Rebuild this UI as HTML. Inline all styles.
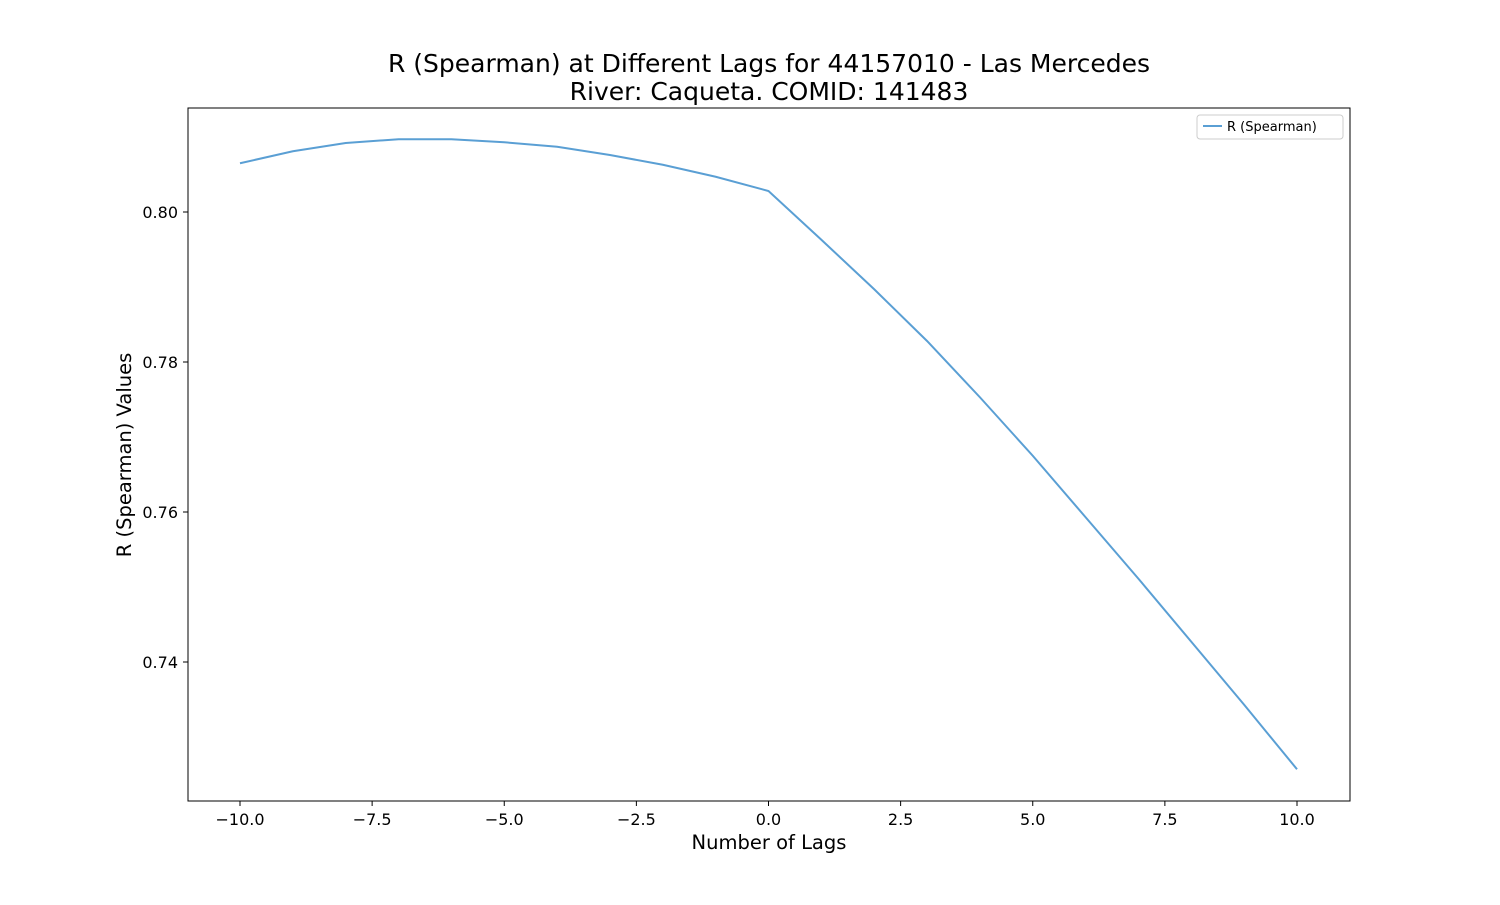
<!DOCTYPE html>
<html><head><meta charset="utf-8"><style>
body{margin:0;background:#fff;font-family:"Liberation Sans","DejaVu Sans",sans-serif}
svg text{font-family:"DejaVu Sans","Liberation Sans",sans-serif}
</style></head><body>
<svg id="chart" width="1500" height="900">
<rect width="1500" height="900" fill="#fff"/>
<text x="769" y="72" text-anchor="middle" font-size="25">R (Spearman) at Different Lags for 44157010 - Las Mercedes</text>
<text x="769" y="100" text-anchor="middle" font-size="25">River: Caqueta. COMID: 141483</text>
<g id="xt"></g><g id="yt"></g>
<path id="line" fill="none" stroke="#5a9fd4" stroke-width="2"/>
<rect x="188" y="108" width="1162" height="693" fill="none" stroke="#000" stroke-width="1"/>
<text x="769" y="849" text-anchor="middle" font-size="19.5">Number of Lags</text>
<text transform="translate(131,455) rotate(-90)" text-anchor="middle" font-size="19.5">R (Spearman) Values</text>
<g>
<rect x="1197" y="115" width="146" height="24" rx="3" fill="#fff" stroke="#ccc"/>
<line x1="1203" y1="126" x2="1222" y2="126" stroke="#5a9fd4" stroke-width="2"/>
<text x="1227" y="131" font-size="13">R (Spearman)</text>
</g>
</svg>
<script>
const lags=[-10,-9,-8,-7,-6,-5,-4,-3,-2,-1,0,1,2,3,4,5,6,7,8,9,10];
const rValues=[0.8065,0.8081,0.8092,0.8097,0.8097,0.8093,0.8087,0.8076,0.8063,0.8047,0.8028,0.7963,0.7897,0.7828,0.7753,0.7675,0.7593,0.7511,0.7427,0.7343,0.7257];
const xTicks=[-10,-7.5,-5,-2.5,0,2.5,5,7.5,10];
const yTicks=[0.74,0.76,0.78,0.80];
const X=v=>240+(v+10)*(1297-240)/20;
const Y=v=>212-(v-0.80)*7500;
const ns="http://www.w3.org/2000/svg";
const xt=document.getElementById('xt'),yt=document.getElementById('yt');
xTicks.forEach(t=>{
 const l=document.createElementNS(ns,'line');l.setAttribute('x1',X(t));l.setAttribute('x2',X(t));l.setAttribute('y1',801);l.setAttribute('y2',806);l.setAttribute('stroke','#000');
 
 
 xt.appendChild(l);
 const s=document.createElementNS(ns,'text');s.setAttribute('x',X(t));s.setAttribute('y',825);s.setAttribute('text-anchor','middle');s.setAttribute('font-size','16');
 s.textContent=(t<0?'\u2212':'')+Math.abs(t).toFixed(1);
 
 
 xt.appendChild(s);
});
yTicks.forEach(t=>{
 const l=document.createElementNS(ns,'line');l.setAttribute('x1',183);l.setAttribute('x2',188);l.setAttribute('y1',Y(t));l.setAttribute('y2',Y(t));l.setAttribute('stroke','#000');
 
 
 yt.appendChild(l);
 const s=document.createElementNS(ns,'text');s.setAttribute('x',178);s.setAttribute('y',Y(t)+6);s.setAttribute('text-anchor','end');s.setAttribute('font-size','16');
 s.textContent=t.toFixed(2);
 
 
 yt.appendChild(s);
});
document.getElementById('line').setAttribute('d',lags.map((l,i)=>(i?'L':'M')+X(l)+','+Y(rValues[i])).join(''));
</script>
</body></html>
